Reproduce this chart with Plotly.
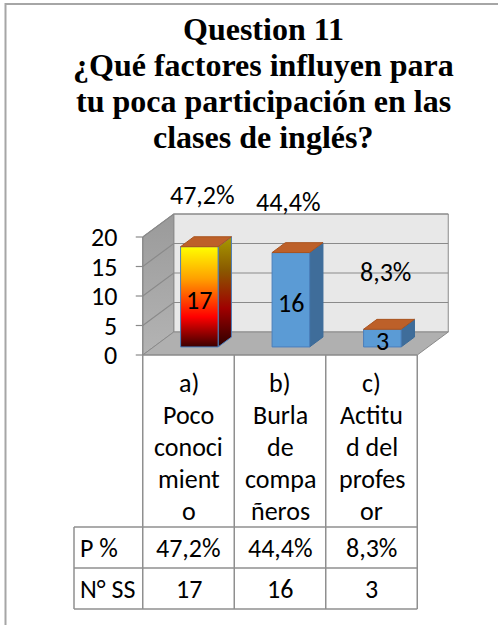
import plotly.graph_objects as go

# ---------------- data ----------------
title_lines = ["Question 11", "¿Qué factores influyen para",
               "tu poca participación en las", "clases de inglés?"]
category_lines = [["a)", "Poco", "conoci", "mient", "o"],
                  ["b)", "Burla", "de", "compa", "ñeros"],
                  ["c)", "Actitu", "d del", "profes", "or"]]
counts = [17, 16, 3]
percent_labels = ["47,2%", "44,4%", "8,3%"]
row_names = ["P %", "N° SS"]
y_ticks = [0, 5, 10, 15, 20]

# ---------------- geometry / style ----------------
W, H = 498, 625
PX0, PXU = 188.5, 91.5      # pixel x of category 0, pixels per category
PY0, PYU = 355.0, 5.9       # pixel y of value 0 (front), pixels per unit
DX, DY = 31 / PXU, 23 / PYU  # depth of the 3D box in data units
YMAX = 20
T0, T1, BW = 0.35, 0.78, 0.41
pct_pos = [(0.148, 27.1), (1.098, 25.9), (2.148, 14.1)]

FONT = "Calibri, Carlito, Lato, sans-serif"
FS = 26
TFONT = "Liberation Serif"
GRID = "#8a8a8a"
TABLE_LINE = "#8f8f8f"

def v_of_py(py):
    return (PY0 - py) / PYU

def x_of_px(px):
    return (px - PX0) / PXU

fig = go.Figure()

def poly(xs, ys, fill, line="rgba(0,0,0,0)", lw=0, grad=None):
    kw = dict(x=list(xs) + [xs[0]], y=list(ys) + [ys[0]], mode="lines",
              fill="toself", fillcolor=fill,
              line=dict(color=line, width=lw), hoverinfo="skip",
              showlegend=False)
    if grad is not None:
        kw["fillgradient"] = dict(type="vertical", colorscale=grad)
    fig.add_trace(go.Scatter(**kw))

def seg(xs, ys, color, w=1.2):
    fig.add_trace(go.Scatter(x=xs, y=ys, mode="lines",
                             line=dict(color=color, width=w),
                             hoverinfo="skip", showlegend=False))

L, R = -0.5, len(counts) - 0.5
# back wall
poly([L + DX, R + DX, R + DX, L + DX], [DY, DY, YMAX + DY, YMAX + DY],
     "#e8e8e8", GRID, 1)
# left wall
poly([L, L + DX, L + DX, L], [0, DY, YMAX + DY, YMAX], "#a0a0a0", GRID, 1,
     grad=[[0, "#b4b4b4"], [1, "#9a9a9a"]])
# floor
poly([L, R, R + DX, L + DX], [0, 0, DY, DY], "#b0b0b0", GRID, 1)
# gridlines
for t in y_ticks[1:]:
    seg([L, L + DX, R + DX], [t, t + DY, t + DY], GRID, 1.2)

# bars
front_grad = [[0, "#3a0000"], [0.3, "#ff0000"], [0.68, "#ffa000"], [1, "#ffff00"]]
side_grad = [[0, "#2a0000"], [0.35, "#a00000"], [0.7, "#8a5a00"], [1, "#a89a00"]]
ddx, ddy = (T1 - T0) * DX, (T1 - T0) * DY
for i, val in enumerate(counts):
    x0 = i + T0 * DX - BW / 2
    x1 = x0 + BW
    yb = T0 * DY
    yt = yb + val
    if i == 0:
        poly([x1, x1 + ddx, x1 + ddx, x1], [yb, yb + ddy, yt + ddy, yt],
             "#800000", "#4a7ebb", 1, grad=side_grad)
        poly([x0, x1, x1, x0], [yb, yb, yt, yt], "#ff0000", "#4a7ebb", 1,
             grad=front_grad)
    else:
        poly([x1, x1 + ddx, x1 + ddx, x1], [yb, yb + ddy, yt + ddy, yt],
             "#3f6d9a", "#3a6a98", 1)
        poly([x0, x1, x1, x0], [yb, yb, yt, yt], "#5b9bd5", "#4a7ebb", 1)
    poly([x0, x1, x1 + ddx, x0 + ddx], [yt, yt, yt + ddy, yt + ddy],
         "#bd6029", "#a9531f", 1)
    fig.add_annotation(x=(x0 + x1) / 2, y=(yb + yt) / 2, text=str(val),
                       showarrow=False, yshift=-3,
                       font=dict(family=FONT, size=FS, color="#000"))

# axis line, ticks, tick labels
seg([L, L], [0, YMAX], GRID, 1.2)
for t in y_ticks:
    seg([L - 7 / PXU, L], [t, t], GRID, 1.2)
    fig.add_annotation(x=x_of_px(119), y=t, text=str(t), showarrow=False,
                       xanchor="right",
                       font=dict(family=FONT, size=FS, color="#000"))

# percentage labels
for (px, py), lab in zip(pct_pos, percent_labels):
    fig.add_annotation(x=px, y=py, text=lab, showarrow=False,
                       font=dict(family=FONT, size=FS, color="#000"))

# data table
row_top = v_of_py(527)
row_mid = v_of_py(568)
row_bot = v_of_py(609)
tab_left = x_of_px(74)
seg([L, R], [0, 0], GRID, 1.2)
for k in range(len(counts) + 1):
    seg([L + k, L + k], [0, row_bot], TABLE_LINE, 1.5)
seg([tab_left, tab_left], [row_top, row_bot], TABLE_LINE, 1.5)
for yv in (row_top, row_mid, row_bot):
    seg([tab_left, R], [yv, yv], TABLE_LINE, 1.5)

for i, lines in enumerate(category_lines):
    for j, ln in enumerate(lines):
        fig.add_annotation(x=i, y=v_of_py(383 + 32 * j), text=ln,
                           showarrow=False,
                           font=dict(family=FONT, size=FS, color="#000"))

row_vals = [percent_labels, [str(c) for c in counts]]
for r, (name, vals) in enumerate(zip(row_names, row_vals)):
    yc = (row_top + row_mid) / 2 if r == 0 else (row_mid + row_bot) / 2
    fig.add_annotation(x=x_of_px(78), y=yc, text=name, showarrow=False,
                       xanchor="left",
                       font=dict(family=FONT, size=FS, color="#000"))
    for i, v in enumerate(vals):
        fig.add_annotation(x=i, y=yc, text=v, showarrow=False,
                           font=dict(family=FONT, size=FS, color="#000"))

# title
for k, ln in enumerate(title_lines):
    fig.add_annotation(xref="paper", yref="paper", x=263 / W,
                       y=1 - (29 + 36 * k) / H, text="<b>" + ln + "</b>",
                       showarrow=False, xanchor="center", yanchor="middle",
                       font=dict(family=TFONT, size=32, color="#000"))

# outer frame (left and top edge)
fig.add_shape(type="line", xref="paper", yref="paper", x0=5.5 / W, x1=5.5 / W,
              y0=0, y1=1 - 3 / H, line=dict(color="#a6a6a6", width=2))
fig.add_shape(type="line", xref="paper", yref="paper", x0=5.5 / W, x1=1,
              y0=1 - 4 / H, y1=1 - 4 / H, line=dict(color="#a6a6a6", width=2))

fig.update_layout(
    width=W, height=H, margin=dict(l=0, r=0, t=0, b=0),
    paper_bgcolor="#ffffff", plot_bgcolor="#ffffff", showlegend=False,
    xaxis=dict(range=[x_of_px(0), x_of_px(W)], visible=False, fixedrange=True),
    yaxis=dict(range=[v_of_py(H), v_of_py(0)], visible=False, fixedrange=True),
)
fig.write_html("out.html", config={"displayModeBar": False},
               post_script="document.body.style.margin='0';"
                           "document.body.style.padding='0';"
                           "document.body.style.overflow='hidden';")
